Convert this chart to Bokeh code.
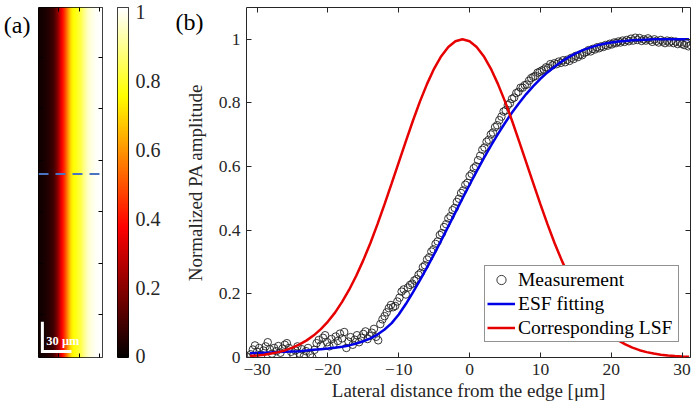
import numpy as np
from bokeh.plotting import figure
from bokeh.layouts import row
from bokeh.models import (Range1d, LinearAxis, FixedTicker, LinearColorMapper, Legend,
                          LegendItem)
from bokeh.embed import file_html
from bokeh.resources import INLINE
from bokeh.core.properties import value

FONT = "Liberation Serif"
INK = "#262626"

# ---------------- data ----------------
# measurement sampling grid (0.3 um steps) and read values
meas_x = np.round(-31.5 + 0.3 * np.arange(210), 2)
meas_y = [
    0.004, 0.000, 0.010, 0.025, 0.038, 0.018, 0.030, 0.008, 0.022, 0.035,
    0.048, 0.026, 0.012, 0.030, 0.020, 0.036, 0.015, 0.028, 0.040, 0.045,
    0.030, 0.018, 0.008, 0.022, 0.035, 0.012, 0.026, 0.004, 0.020, 0.030,
    0.010, 0.000, 0.024, 0.045, 0.055, 0.038, 0.062, 0.070, 0.048, 0.035,
    0.058, 0.042, 0.066, 0.052, 0.075, 0.060, 0.080, 0.030, 0.050, 0.064,
    0.040, 0.056, 0.070, 0.048, 0.062, 0.074, 0.082, 0.058, 0.068, 0.078,
    0.090, 0.065, 0.054, 0.105, 0.120, 0.130, 0.142, 0.155, 0.165, 0.158,
    0.162, 0.176, 0.188, 0.207, 0.214, 0.198, 0.220, 0.228, 0.232, 0.242,
    0.246, 0.260, 0.266, 0.284, 0.290, 0.308, 0.315, 0.333, 0.340, 0.357,
    0.365, 0.385, 0.391, 0.410, 0.419, 0.437, 0.444, 0.463, 0.470, 0.489,
    0.499, 0.517, 0.525, 0.543, 0.549, 0.570, 0.577, 0.595, 0.601, 0.620,
    0.634, 0.653, 0.660, 0.678, 0.684, 0.701, 0.707, 0.724, 0.730, 0.746,
    0.757, 0.773, 0.777, 0.793, 0.799, 0.813, 0.817, 0.831, 0.835, 0.848,
    0.848, 0.856, 0.858, 0.870, 0.878, 0.882, 0.885, 0.895, 0.898, 0.902,
    0.905, 0.912, 0.910, 0.922, 0.918, 0.925, 0.922, 0.930, 0.926, 0.934,
    0.928, 0.936, 0.932, 0.942, 0.938, 0.948, 0.944, 0.952, 0.950, 0.958,
    0.960, 0.966, 0.962, 0.970, 0.968, 0.975, 0.972, 0.978, 0.976, 0.982,
    0.980, 0.986, 0.984, 0.990, 0.988, 0.993, 0.990, 0.996, 0.992, 0.998,
    0.994, 1.002, 0.996, 1.005, 0.998, 1.004, 0.995, 1.000, 0.996, 1.003,
    0.997, 0.992, 1.000, 0.995, 0.990, 0.998, 0.993, 0.988, 0.996, 0.990,
    0.995, 0.988, 0.993, 0.985, 0.990, 0.986, 0.982, 0.988, 0.978, 0.982,
]

fit_x = list(range(-31, 32))
esf_y = [
    0.013, 0.014, 0.015, 0.016, 0.017, 0.018, 0.019, 0.020, 0.022, 0.024,
    0.026, 0.028, 0.031, 0.034, 0.038, 0.044, 0.051, 0.060, 0.072, 0.088,
    0.108, 0.135, 0.168, 0.205, 0.243, 0.283, 0.325, 0.368, 0.412, 0.456,
    0.500, 0.543, 0.585, 0.626, 0.665, 0.702, 0.737, 0.770, 0.800, 0.828,
    0.853, 0.876, 0.896, 0.914, 0.930, 0.944, 0.956, 0.966, 0.974, 0.981,
    0.986, 0.990, 0.993, 0.995, 0.997, 0.998, 0.999, 1.000, 1.000, 1.000,
    1.000, 1.000, 1.000,
]
lsf_y = [
    0.0044, 0.0062, 0.0088, 0.0123, 0.0169, 0.0230, 0.0309, 0.0410, 0.0538, 0.0697,
    0.0893, 0.113, 0.141, 0.175, 0.213, 0.257, 0.306, 0.360, 0.419, 0.482,
    0.547, 0.613, 0.679, 0.744, 0.805, 0.860, 0.908, 0.947, 0.976, 0.994,
    1.000,
    0.994, 0.976, 0.947, 0.908, 0.860, 0.805, 0.744, 0.679, 0.613, 0.547,
    0.482, 0.419, 0.360, 0.306, 0.257, 0.213, 0.175, 0.141, 0.113, 0.0893,
    0.0697, 0.0538, 0.0410, 0.0309, 0.0230, 0.0169, 0.0123, 0.0088, 0.0062, 0.0044,
    0.0030, 0.0020,
]

x_ticks = [-30, -20, -10, 0, 10, 20, 30]
y_ticks = [0, 0.2, 0.4, 0.6, 0.8, 1.0]
y_tick_labels = ["0", "0.2", "0.4", "0.6", "0.8", "1"]
cb_ticks = [0, 0.2, 0.4, 0.6, 0.8, 1.0]
cb_labels = ["0", "0.2", "0.4", "0.6", "0.8", "1"]

# PA image: normalized amplitude across the edge, one value per um column
edge_profile = [
    0.02, 0.02, 0.03, 0.02, 0.03, 0.04, 0.03, 0.04, 0.05, 0.05, 0.06,
    0.07, 0.07, 0.08, 0.09, 0.10, 0.12, 0.13, 0.15,
    0.18, 0.21, 0.25, 0.29,
    0.33, 0.37, 0.40, 0.43,
    0.47, 0.51, 0.55,
    0.59, 0.63, 0.67,
    0.70, 0.72, 0.74, 0.75, 0.76, 0.77, 0.78, 0.79, 0.80, 0.81, 0.82,
    0.84, 0.86, 0.88, 0.90, 0.91, 0.92, 0.93, 0.94, 0.95,
    0.96, 0.965, 0.97, 0.975, 0.98, 0.985, 0.99, 0.99, 0.995, 0.995, 1.0, 1.0, 1.0,
]
img_w, img_h = 66, 353          # um
img_x_ticks = [21, 42, 63]
img_y_ticks = [43, 95, 147, 199, 251, 303]
profile_row = 185               # dashed line (um from bottom)
scale_bar_um = 30
panel_a_label_y = 335.5         # "(a)" position (image um)
panel_b_label_y = 1.054         # "(b)" position (data)

# ---------------- colormap (MATLAB hot) ----------------
def hot(m=256):
    n = int(3 * m / 8)
    out = []
    for i in range(m):
        r = min(1.0, (i + 1) / n)
        g = min(1.0, max(0.0, (i + 1 - n) / n))
        b = max(0.0, (i + 1 - 2 * n) / (m - 2 * n))
        out.append("#%02x%02x%02x" % (int(round(r * 255)), int(round(g * 255)), int(round(b * 255))))
    return out

mapper = LinearColorMapper(palette=hot(), low=0, high=1)


def tick_axis(ticks, color, tick_len):
    return LinearAxis(ticker=FixedTicker(ticks=ticks), major_label_text_font_size="0px",
                      major_label_overrides={t: "" for t in ticks},
                      major_tick_in=tick_len, major_tick_out=0, minor_tick_line_color=None,
                      axis_line_color=None, major_tick_line_color=color,
                      major_label_standoff=0)


def label_axis(tick, text, size, standoff):
    return LinearAxis(ticker=FixedTicker(ticks=[tick]), major_label_overrides={tick: text},
                      major_label_text_font=FONT, major_label_text_font_size=size,
                      major_label_text_color="black", major_label_standoff=standoff,
                      major_tick_line_color=None, minor_tick_line_color=None,
                      axis_line_color=None, major_tick_in=0, major_tick_out=0)


# ---------------- panel (a): image ----------------
fa = figure(width=110, height=406, x_range=Range1d(0, img_w), y_range=Range1d(0, img_h),
            output_backend="svg", toolbar_location=None, x_axis_type=None, y_axis_type=None,
            min_border_left=36, min_border_right=8, min_border_top=6, min_border_bottom=47)
fa.grid.visible = False
fa.outline_line_color = "black"
fa.outline_line_width = 1
img = np.tile(np.array(edge_profile), (2, 1))
fa.image(image=[img], x=0, y=0, dw=img_w, dh=img_h, color_mapper=mapper)
fa.line(x=[0, img_w], y=[profile_row, profile_row], line_color="#4a74c2", line_width=2,
        line_dash="10 7")
sb_x, sb_y = 4, 6
fa.line(x=[sb_x, sb_x, sb_x + scale_bar_um], y=[sb_y + scale_bar_um, sb_y, sb_y],
        line_color="white", line_width=3, line_join="miter")
fa.text(x=[sb_x + 4], y=[sb_y + 11], text=["30 μm"], text_color="white",
        text_font=value(FONT), text_font_size="12.5px", text_font_style="bold",
        text_baseline="alphabetic")
fa.add_layout(tick_axis(img_x_ticks, "black", 4), "below")
fa.add_layout(tick_axis(img_x_ticks, "black", 4), "above")
fa.add_layout(tick_axis(img_y_ticks, "black", 4), "left")
fa.add_layout(tick_axis(img_y_ticks, "black", 4), "right")
fa.add_layout(label_axis(panel_a_label_y, "(a)", "24px", 8), "left")

# ---------------- colorbar ----------------
fc = figure(width=60, height=406, x_range=Range1d(0, 1), y_range=Range1d(-0.003, 1.0128),
            output_backend="svg", toolbar_location=None, x_axis_type=None, y_axis_type=None,
            min_border_left=7, min_border_right=42, min_border_top=6, min_border_bottom=47)
fc.grid.visible = False
fc.outline_line_color = "black"
fc.outline_line_width = 1
levels = np.linspace(0, 1, 256).reshape(-1, 1)
fc.image(image=[levels], x=0, y=-0.003, dw=1, dh=1.0158, color_mapper=mapper)
cb_axis = LinearAxis(ticker=FixedTicker(ticks=cb_ticks),
                     major_label_overrides={t: s for t, s in zip(cb_ticks, cb_labels)},
                     major_label_text_font=FONT, major_label_text_font_size="20px",
                     major_label_text_color=INK, major_label_standoff=7,
                     major_tick_line_color=None, minor_tick_line_color=None,
                     axis_line_color=None, major_tick_in=0, major_tick_out=0)
fc.add_layout(cb_axis, "right")

# ---------------- panel (b): ESF / LSF ----------------
fb = figure(width=524, height=406, x_range=Range1d(-31.5, 31.2), y_range=Range1d(0, 1.1),
            output_backend="svg", toolbar_location=None,
            min_border_left=76, min_border_right=4, min_border_top=7, min_border_bottom=49)
fb.grid.visible = False
fb.outline_line_color = INK
fb.outline_line_width = 1

r_meas = fb.scatter(meas_x, meas_y, marker="circle", size=7.5, fill_color=None,
                    line_color="#222222", line_width=0.9)
r_esf = fb.line(fit_x, esf_y, line_color="#0000e6", line_width=2.5)
r_lsf = fb.line(fit_x, lsf_y, line_color="#e60000", line_width=2.5)

fb.xaxis.ticker = FixedTicker(ticks=x_ticks)
fb.yaxis.ticker = FixedTicker(ticks=y_ticks)
fb.yaxis.major_label_overrides = {t: s for t, s in zip(y_ticks, y_tick_labels)}
for ax in (fb.xaxis[0], fb.yaxis[0]):
    ax.major_tick_in = 5
    ax.major_tick_out = 0
    ax.minor_tick_line_color = None
    ax.axis_line_color = None
    ax.major_tick_line_color = INK
    ax.major_label_text_font = FONT
    ax.major_label_text_font_size = "17.5px"
    ax.major_label_text_color = INK
    ax.major_label_standoff = 6
    ax.axis_label_text_font = FONT
    ax.axis_label_text_font_size = "19px"
    ax.axis_label_text_font_style = "normal"
    ax.axis_label_text_color = INK
fb.xaxis.axis_label = "Lateral distance from the edge [μm]"
fb.xaxis.axis_label_standoff = 2
fb.yaxis.axis_label = "Normalized PA amplitude"
fb.yaxis.axis_label_standoff = 10
fb.add_layout(tick_axis(x_ticks, INK, 5), "above")
fb.add_layout(tick_axis(y_ticks, INK, 5), "right")
fb.add_layout(label_axis(panel_b_label_y, "(b)", "24px", -22), "left")

legend = Legend(items=[LegendItem(label="Measurement", renderers=[r_meas]),
                       LegendItem(label="ESF fitting", renderers=[r_esf]),
                       LegendItem(label="Corresponding LSF", renderers=[r_lsf])],
                location=(238, 15), border_line_color=INK, border_line_width=1,
                background_fill_color="white", background_fill_alpha=1.0,
                label_text_font=FONT, label_text_font_size="19.5px", label_text_color="black",
                glyph_width=28, glyph_height=23, label_height=23, label_width=158,
                label_standoff=3, padding=2, spacing=1, margin=0)
fb.add_layout(legend)

layout = row(fa, fc, fb)
open("out.html", "w").write(file_html(layout, INLINE))
